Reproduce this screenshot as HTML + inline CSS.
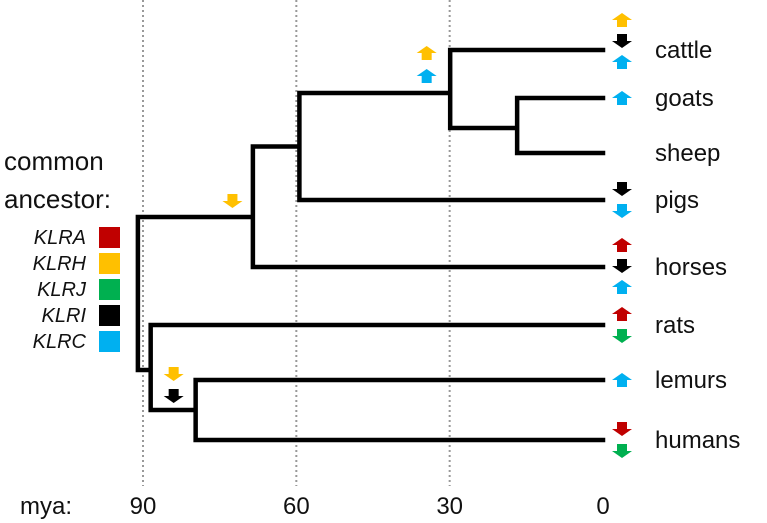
<!DOCTYPE html>
<html><head><meta charset="utf-8"><style>
body{margin:0;background:#fff;}
svg{display:block;font-family:"Liberation Sans","DejaVu Sans",sans-serif;}
</style></head><body>
<svg id="chart" width="767" height="523" viewBox="0 0 767 523"></svg>
<script>
const tickAges=[90,60,30,0];
const tickLabels=["90","60","30","0"];
const speciesNames=["cattle","goats","sheep","pigs","horses","rats","lemurs","humans"];
const tipY=[50,98,153,200,267,325,380,440];
const nodeAges={root:91,laur:68.5,cetart:59.4,rumin:29.9,goatsheep:16.8,euarch:88.5,primate:79.7};
const nodeYOverride={laur:217,rumin:93,goatsheep:128,euarch:370};
const legendGenes=["KLRA","KLRH","KLRJ","KLRI","KLRC"];
const legendColors=["#c00000","#ffc000","#00b050","#000000","#00b0f0"];
// tip arrows: [species index, gene index, direction(1 up,-1 down), slot]
const tipArrows=[[0,1,1,0],[0,3,-1,1],[0,4,1,2],[1,4,1,1],[3,3,-1,0],[3,4,-1,1],[4,0,1,0],[4,3,-1,1],[4,4,1,2],[5,0,1,0],[5,2,-1,1],[6,4,1,1],[7,0,-1,0],[7,2,-1,1]];
// branch arrows: [age, y, gene, dir]
const branchArrows=[[34.5,53,1,1],[34.5,76,4,1],[72.5,201,1,-1],[84,374,1,-1],[84,396,3,-1]];

const svg=document.getElementById('chart');
const NS='http://www.w3.org/2000/svg';
const X=a=>603-a*(603-143)/90;
function mk(t,at){const e=document.createElementNS(NS,t);for(const k in at)e.setAttribute(k,at[k]);svg.appendChild(e);return e;}
tickAges.forEach((a,i)=>{
 if(a>0){const g=mk('line',{x1:X(a),x2:X(a),y1:0,y2:486,stroke:'#999','stroke-width':2,'stroke-dasharray':'2 3'});
 
 }
 const t=mk('text',{x:X(a),y:514,'font-size':24,'text-anchor':'middle',fill:'#111'});t.textContent=tickLabels[i];
 
 
});
const my=mk('text',{x:20,y:514,'font-size':24,fill:'#111'});my.textContent='mya:';


const T={name:'root',age:nodeAges.root,kids:[
 {name:'laur',age:nodeAges.laur,kids:[
  {name:'cetart',age:nodeAges.cetart,kids:[
   {name:'rumin',age:nodeAges.rumin,kids:[{tip:0},{name:'goatsheep',age:nodeAges.goatsheep,kids:[{tip:1},{tip:2}]}]},
   {tip:3}]},
  {tip:4}]},
 {name:'euarch',age:nodeAges.euarch,kids:[{tip:5},{name:'primate',age:nodeAges.primate,kids:[{tip:6},{tip:7}]}]}]};
let d='';
function draw(n){
 if(n.tip!==undefined){n.y=tipY[n.tip];n.x=X(0);return;}
 n.kids.forEach(draw);n.x=X(n.age);
 const ys=n.kids.map(k=>k.y);
 n.y=nodeYOverride[n.name]!==undefined?nodeYOverride[n.name]:(Math.min(...ys)+Math.max(...ys))/2;
 d+=`M${n.x},${Math.min(...ys)}V${Math.max(...ys)}`;
 n.kids.forEach(k=>{d+=`M${n.x},${k.y}H${k.x}`;});
}
draw(T);
const br=mk('path',{d:d,stroke:'#000','stroke-width':4.5,fill:'none','stroke-linecap':'square'});


speciesNames.forEach((s,i)=>{const t=mk('text',{x:655,y:tipY[i]+8,'font-size':24,fill:'#111'});t.textContent=s;
 
 });
function arrow(cx,cy,col,dir,name){
 const w=10,h=7,s=5;
 const p=dir>0?[[cx,cy-h],[cx+w,cy],[cx+s,cy],[cx+s,cy+h],[cx-s,cy+h],[cx-s,cy],[cx-w,cy]]
              :[[cx,cy+h],[cx+w,cy],[cx+s,cy],[cx+s,cy-h],[cx-s,cy-h],[cx-s,cy],[cx-w,cy]];
 const e=mk('polygon',{points:p.map(q=>q.join(',')).join(' '),fill:col});
 
 
}
tipArrows.forEach(([si,g,dir,slot])=>{
 const n=speciesNames[si];const cnt=tipArrows.filter(a=>a[0]===si).length;
 let cy;
 if(cnt===1)cy=tipY[si];else if(cnt===2)cy=tipY[si]-11+slot*22;else cy=tipY[si]-22+slot*21;
 if(si===0)cy=tipY[0]-30+slot*21;
 arrow(622,cy,legendColors[g],dir,'arrow-'+n+'-'+legendGenes[g]);
});
branchArrows.forEach(([a,y,g,dir])=>arrow(X(a),y,legendColors[g],dir,'branch-arrow-'+legendGenes[g]));
[['common',170],['ancestor:',208]].forEach(([s,y])=>{const t=mk('text',{x:4,y:y,'font-size':26,fill:'#111'});t.textContent=s;
 
 });
legendGenes.forEach((g,i)=>{const y=237+i*26;
 const t=mk('text',{x:86,y:y+7,'font-size':20,'font-style':'italic','text-anchor':'end',fill:'#111'});t.textContent=g;
 
 
 const r=mk('rect',{x:99,y:y-10,width:21,height:21,fill:legendColors[i]});
 
 });
</script>
</body></html>
